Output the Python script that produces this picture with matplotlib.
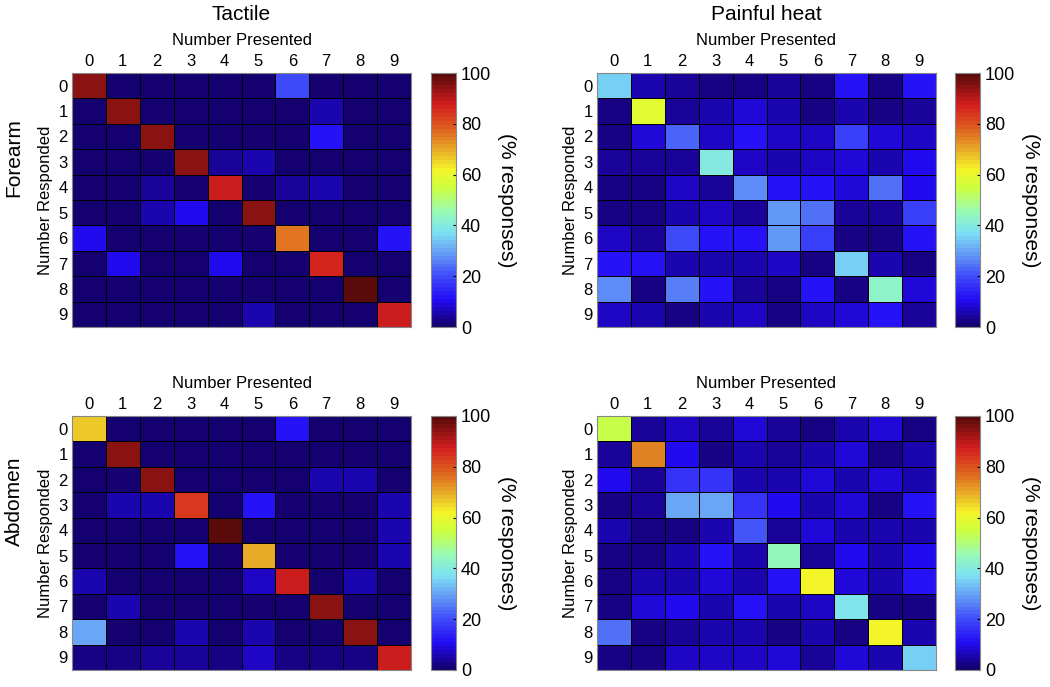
import numpy as np
import matplotlib
matplotlib.use('Agg')
import matplotlib.pyplot as plt
from matplotlib.colors import LinearSegmentedColormap

plt.rcParams['font.family'] = ['Liberation Sans', 'DejaVu Sans']

numbers = list(range(10))
titles = ['Tactile', 'Painful heat']
sites = ['Forearm', 'Abdomen']

# % responses, rows = number responded, cols = number presented
tactile_forearm = [
    [94, 1, 1, 1, 1, 1, 20, 1, 1, 1],
    [1, 94, 1, 1, 1, 1, 1, 5, 1, 1],
    [1, 1, 94, 1, 1, 1, 1, 11, 1, 1],
    [1, 1, 1, 94, 4, 5, 1, 1, 1, 1],
    [1, 1, 4, 1, 89, 1, 4, 5, 1, 1],
    [1, 1, 5, 10, 1, 94, 1, 1, 1, 1],
    [10, 1, 1, 1, 1, 1, 76, 1, 1, 12],
    [1, 10, 1, 1, 10, 1, 1, 87, 1, 1],
    [1, 1, 1, 1, 1, 1, 1, 1, 100, 1],
    [1, 1, 1, 1, 1, 5, 1, 1, 1, 88],
]
heat_forearm = [
    [35, 6, 4, 2, 2, 4, 2, 12, 2, 11],
    [2, 58, 4, 5, 8, 5, 3, 5, 2, 4],
    [2, 8, 23, 7, 11, 7, 7, 18, 8, 7],
    [4, 4, 4, 40, 7, 5, 7, 8, 6, 10],
    [2, 2, 7, 4, 27, 11, 11, 8, 24, 10],
    [2, 2, 6, 7, 4, 29, 24, 4, 4, 18],
    [7, 4, 19, 11, 11, 29, 18, 2, 2, 11],
    [11, 12, 5, 5, 5, 7, 2, 35, 5, 2],
    [28, 2, 26, 11, 4, 3, 11, 2, 43, 8],
    [7, 5, 3, 5, 7, 3, 7, 8, 11, 4],
]
tactile_abdomen = [
    [66, 1, 1, 1, 1, 1, 12, 1, 1, 1],
    [1, 94, 1, 1, 1, 1, 1, 1, 1, 1],
    [1, 1, 94, 1, 1, 1, 1, 6, 5, 1],
    [1, 5, 5, 83, 1, 11, 1, 1, 1, 5],
    [1, 1, 1, 1, 99, 1, 1, 1, 1, 6],
    [1, 1, 1, 11, 1, 70, 1, 1, 1, 5],
    [5, 1, 1, 1, 1, 7, 88, 1, 5, 1],
    [1, 5, 1, 1, 1, 1, 1, 94, 1, 1],
    [31, 1, 1, 6, 1, 5, 1, 1, 94, 1],
    [2, 2, 4, 4, 2, 7, 2, 2, 3, 88],
]
heat_abdomen = [
    [54, 4, 7, 4, 9, 4, 2, 6, 9, 3],
    [4, 74, 10, 2, 6, 4, 5, 9, 2, 5],
    [10, 4, 16, 16, 6, 5, 8, 6, 9, 5],
    [2, 4, 30, 30, 16, 10, 5, 9, 2, 11],
    [6, 2, 2, 6, 21, 4, 9, 5, 6, 6],
    [3, 2, 6, 11, 6, 45, 4, 10, 5, 10],
    [2, 6, 5, 9, 6, 12, 61, 9, 6, 11],
    [2, 9, 10, 5, 11, 5, 7, 38, 3, 3],
    [24, 2, 4, 6, 5, 3, 5, 3, 62, 5],
    [2, 3, 7, 7, 7, 8, 4, 8, 5, 35],
]

data = [[tactile_forearm, heat_forearm], [tactile_abdomen, heat_abdomen]]

# jet, toned like the printed figure
jet_stops = [
    (0.00, (20, 0, 110)),
    (0.10, (35, 10, 245)),
    (0.20, (65, 80, 250)),
    (0.30, (105, 165, 245)),
    (0.37, (125, 225, 245)),
    (0.45, (150, 250, 185)),
    (0.55, (205, 255, 60)),
    (0.62, (245, 245, 40)),
    (0.70, (232, 170, 40)),
    (0.80, (220, 85, 30)),
    (0.88, (212, 30, 30)),
    (1.00, (90, 10, 10)),
]
cmap = LinearSegmentedColormap.from_list(
    'jet_print', [(p, tuple(v / 255.0 for v in c)) for p, c in jet_stops], N=64)

fig = plt.figure(figsize=(10.5, 6.87), dpi=100)

W, H = 1050.0, 687.0
ax_left = [72, 597]
cb_left = [431, 955]
ax_top = [73, 416]
ax_w, ax_h = 339, 254

for r in range(2):
    for c in range(2):
        ax = fig.add_axes([ax_left[c] / W, 1 - (ax_top[r] + ax_h) / H,
                           ax_w / W, ax_h / H])
        m = np.array(data[r][c], dtype=float)
        edges = np.arange(11) - 0.5
        mesh = ax.pcolormesh(edges, edges, m, cmap=cmap, vmin=0, vmax=100,
                             edgecolors='k', linewidth=0.5)
        ax.set_xlim(-0.5, 9.5)
        ax.set_ylim(9.5, -0.5)
        ax.xaxis.tick_top()
        ax.xaxis.set_label_position('top')
        ax.set_xticks(numbers)
        ax.set_yticks(numbers)
        ax.tick_params(length=0, labelsize=12, pad=3)
        ax.set_xlabel('Number Presented', fontsize=12, labelpad=6)
        ax.set_ylabel('Number Responded', fontsize=12, labelpad=4)
        for s in ax.spines.values():
            s.set_color('#888888')
            s.set_linewidth(0.8)

        cax = fig.add_axes([cb_left[c] / W, 1 - (ax_top[r] + ax_h) / H,
                            25 / W, ax_h / H])
        cb = fig.colorbar(mesh, cax=cax)
        cb.set_ticks([0, 20, 40, 60, 80, 100])
        cb.ax.tick_params(labelsize=13, length=2, direction='in')
        cb.outline.set_edgecolor('#888888')
        cb.set_label('(% responses)', rotation=270, fontsize=15, labelpad=18)

for c in range(2):
    fig.text((ax_left[c] + ax_w / 2) / W, 1 - 15 / H, titles[c],
             ha='center', va='center', fontsize=15)
for r in range(2):
    fig.text(14 / W, 1 - (ax_top[r] + 85) / H, sites[r], rotation=90,
             ha='center', va='center', fontsize=15)

plt.savefig('out.png', dpi=100)
